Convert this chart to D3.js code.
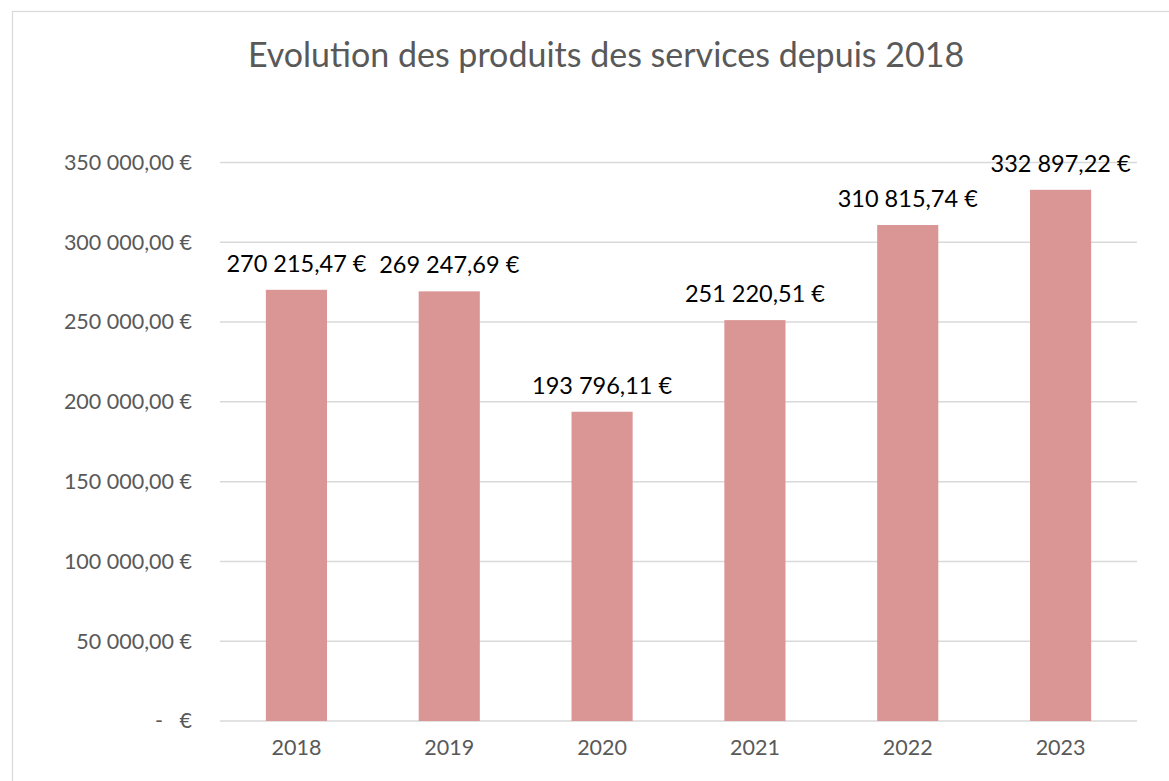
<!DOCTYPE html>
<html>
<head>
  <meta charset="utf-8">
  <style>
    body {
      margin: 0;
      background: #fff;
      font-family: Lato, "Open Sans", sans-serif;
    }
    .grid line {
      stroke: #d9d9d9;
      stroke-width: 1.5px;
    }
    .axis text {
      fill: #595959;
      font-family: Lato, "Open Sans", sans-serif;
      font-size: 21.5px;
      white-space: pre;
    }
    .label {
      fill: #000;
      font-size: 23.5px;
    }
    .title {
      fill: #595959;
      font-size: 34px;
    }
  </style>
</head>
<body>
  <div class="chart"></div>

  <script src="https://cdn.jsdelivr.net/npm/d3@7"></script>
  <script>
    // chart values
    let years = ["2018", "2019", "2020", "2021", "2022", "2023"];
    let amounts = [270215.47, 269247.69, 193796.11, 251220.51, 310815.74, 332897.22];
    let amountLabels = ["270 215,47 €", "269 247,69 €", "193 796,11 €",
      "251 220,51 €", "310 815,74 €", "332 897,22 €"];
    let tickValues = [0, 50000, 100000, 150000, 200000, 250000, 300000, 350000];
    let tickLabels = ["-   €", "50 000,00 €", "100 000,00 €", "150 000,00 €",
      "200 000,00 €", "250 000,00 €", "300 000,00 €", "350 000,00 €"];
    let title = "Evolution des produits des services depuis 2018";

    // setup
    let W = 1169, H = 781;
    let margin = { top: 162.5, right: 32, bottom: 60, left: 220 },
      width = W - margin.left - margin.right,
      height = H - margin.top - margin.bottom;

    let svg = d3.select(".chart").append("svg")
      .attr("width", W)
      .attr("height", H);

    // outer frame of the chart
    svg.append("rect")
      .attr("x", 12.5)
      .attr("y", 11.5)
      .attr("width", 1200)
      .attr("height", 800)
      .attr("fill", "#fff")
      .attr("stroke", "#d9d9d9")
      .attr("stroke-width", 1.2);

    svg.append("text")
      .attr("class", "title")
      .attr("x", 606)
      .attr("y", 67)
      .attr("text-anchor", "middle")
      .text(title);

    let g = svg.append("g")
      .attr("transform", "translate(" + margin.left + "," + margin.top + ")");

    let x = d3.scaleBand()
      .domain(years)
      .range([0, width])
      .paddingInner(0.6)
      .paddingOuter(0.3);

    let y = d3.scaleLinear()
      .domain([0, 350000])
      .range([height, 0]);

    // gridlines
    g.append("g")
      .attr("class", "grid")
      .selectAll("line")
      .data(tickValues)
      .enter().append("line")
      .attr("x1", 0)
      .attr("x2", width)
      .attr("y1", function (d) { return y(d); })
      .attr("y2", function (d) { return y(d); });

    // y axis labels
    let yAxis = d3.axisLeft(y)
      .tickValues(tickValues)
      .tickSize(0)
      .tickPadding(28)
      .tickFormat(function (d, i) { return tickLabels[i]; });
    g.append("g")
      .attr("class", "axis")
      .call(yAxis)
      .call(function (a) { a.select(".domain").remove(); });

    // x axis labels
    let xAxis = d3.axisBottom(x)
      .tickSize(0)
      .tickPadding(19);
    g.append("g")
      .attr("class", "axis")
      .attr("transform", "translate(0," + height + ")")
      .call(xAxis)
      .call(function (a) { a.select(".domain").remove(); });

    // bars
    g.selectAll(".bar")
      .data(amounts)
      .enter().append("rect")
      .attr("class", "bar")
      .attr("x", function (d, i) { return x(years[i]); })
      .attr("width", x.bandwidth())
      .attr("y", function (d) { return y(d); })
      .attr("height", function (d) { return height - y(d); })
      .attr("fill", "#d99694");

    // value labels
    g.selectAll(".label")
      .data(amounts)
      .enter().append("text")
      .attr("class", "label")
      .attr("x", function (d, i) { return x(years[i]) + x.bandwidth() / 2; })
      .attr("y", function (d) { return y(d) - 18; })
      .attr("text-anchor", "middle")
      .text(function (d, i) { return amountLabels[i]; });
  </script>
</body>
</html>
